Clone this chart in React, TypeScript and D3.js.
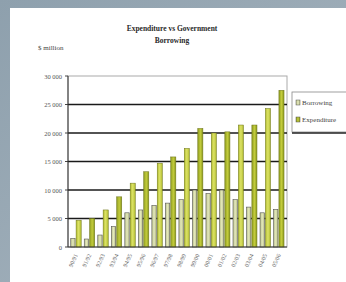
import React from 'react';
import * as d3 from 'd3';

const years = ['90/91', '91/92', '92/93', '93/94', '94/95', '95/96', '96/97', '97/98',
  '98/99', '99/00', '00/01', '01/02', '02/03', '03/04', '04/05', '05/06'];
const borrowing = [1500, 1400, 2100, 3600, 6000, 6500, 7300, 7700, 8300, 10000, 9400, 10000, 8300, 7000, 6000, 6600];
const expenditure = [4700, 5000, 6500, 8800, 11200, 13200, 14700, 15800, 17300, 20800, 20000, 20200, 21400, 21400, 24300, 27500];
const yTicks = [0, 5000, 10000, 15000, 20000, 25000, 30000];

const W = 346, H = 282;
const plot = { left: 68, right: 287, top: 76, bottom: 247 };

export default function App() {
  const x = d3.scaleBand<string>().domain(years).range([plot.left + 2, plot.right - 2]).paddingInner(0.1);
  const y = d3.scaleLinear().domain([0, 30000]).range([plot.bottom, plot.top]);
  const fmt = (v: number) => (v === 0 ? '0' : d3.format(',')(v).replace(',', ' '));
  const bw = x.bandwidth();

  return (
    <svg width={W} height={H} style={{ position: 'absolute', left: 0, top: 0 }} fontFamily="Liberation Serif">
      <defs>
        <linearGradient id="bg" x1="0" x2="1" y1="0" y2="1">
          <stop offset="0" stopColor="#8ea0ad" />
          <stop offset="1" stopColor="#a9b6c0" />
        </linearGradient>
        <linearGradient id="expA" x1="0" x2="1">
          <stop offset="0" stopColor="#8c9a1f" />
          <stop offset="0.5" stopColor="#c3cc3c" />
          <stop offset="1" stopColor="#8c9a1f" />
        </linearGradient>
        <linearGradient id="expB" x1="0" x2="1">
          <stop offset="0" stopColor="#b4bf30" />
          <stop offset="0.5" stopColor="#dde367" />
          <stop offset="1" stopColor="#aeb92c" />
        </linearGradient>
        <linearGradient id="bor" x1="0" x2="1">
          <stop offset="0" stopColor="#b8bf88" />
          <stop offset="0.5" stopColor="#e4e8bc" />
          <stop offset="1" stopColor="#b8bf88" />
        </linearGradient>
      </defs>
      <rect x={0} y={0} width={W} height={H} fill="url(#bg)" />
      <rect x={10} y={8} width={W - 10} height={H - 8} fill="#ffffff" />

      <text x={172} y={31} textAnchor="middle" fontSize={7.5} fontWeight="bold" fill="#2a2a2a">Expenditure vs Government</text>
      <text x={172} y={43} textAnchor="middle" fontSize={7.5} fontWeight="bold" fill="#2a2a2a">Borrowing</text>
      <text x={38} y={50} fontSize={7} fill="#444">$ million</text>

      {/* plot border */}
      <rect x={plot.left} y={plot.top} width={plot.right - plot.left} height={plot.bottom - plot.top}
        fill="none" stroke="#aaa" strokeWidth={1} />
      {yTicks.slice(1, -1).map(t => (
        <line key={t} x1={plot.left} x2={plot.right} y1={y(t)} y2={y(t)} stroke="#1a1a1a" strokeWidth={1.7} />
      ))}
      {yTicks.map(t => (
        <g key={'t' + t}>
          <line x1={plot.left - 3} x2={plot.left} y1={y(t)} y2={y(t)} stroke="#444" />
          <text x={plot.left - 6} y={y(t) + 2.5} textAnchor="end" fontSize={6.5} fill="#555">{fmt(t)}</text>
        </g>
      ))}

      {years.map((yr, i) => {
        const x0 = x(yr)!;
        const bBw = bw * 0.36;
        const eBw = bw * 0.42;
        return (
          <g key={yr}>
            <rect x={x0 + bw * 0.06} y={y(borrowing[i])} width={bBw} height={plot.bottom - y(borrowing[i])}
              fill="url(#bor)" stroke="#555" strokeWidth={0.6} />
            <rect x={x0 + bw * 0.5} y={y(expenditure[i])} width={eBw} height={plot.bottom - y(expenditure[i])}
              fill={i % 2 === 0 ? 'url(#expB)' : 'url(#expA)'} stroke="#6b7218" strokeWidth={0.5} />
            <text transform={`translate(${x0 + bw / 2 + 2},${plot.bottom + 8}) rotate(-65)`} textAnchor="end"
              fontSize={6} fill="#666">{yr}</text>
          </g>
        );
      })}
      <line x1={plot.left} x2={plot.left} y1={plot.top} y2={plot.bottom} stroke="#333" strokeWidth={1} />
      <line x1={plot.left} x2={plot.right} y1={plot.bottom} y2={plot.bottom} stroke="#333" strokeWidth={1} />

      {/* legend */}
      <rect x={292} y={92} width={60} height={40} fill="#fff" stroke="#888" strokeWidth={0.8} />
      <line x1={292} x2={346} y1={133} y2={133} stroke="#222" strokeWidth={1.5} />
      <rect x={296} y={100} width={4} height={5} fill="url(#bor)" stroke="#555" strokeWidth={0.5} />
      <text x={302} y={105} fontSize={7} fill="#444">Borrowing</text>
      <rect x={296} y={117} width={4} height={5} fill="url(#expA)" stroke="#555" strokeWidth={0.5} />
      <text x={302} y={122} fontSize={7} fill="#444">Expenditure</text>
    </svg>
  );
}
